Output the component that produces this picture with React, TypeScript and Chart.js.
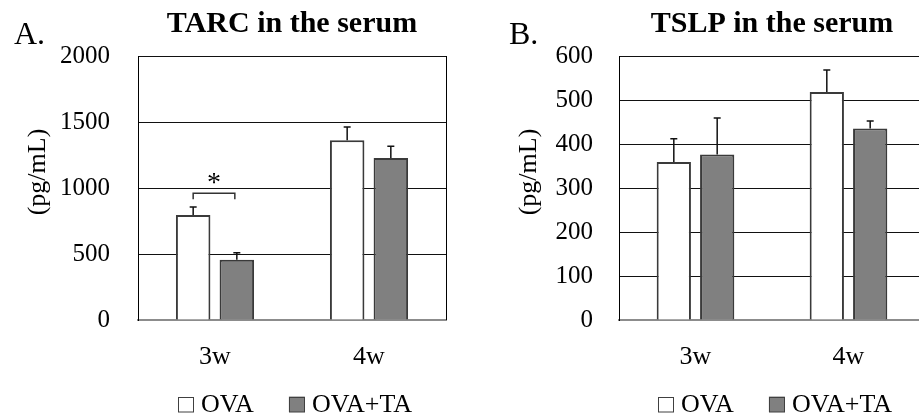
import React, { useEffect, useRef } from "react";
import { Chart, registerables } from "chart.js";

Chart.register(...registerables);

const FONT = "'Liberation Serif', 'Times New Roman', Times, serif";

// ---- data ----
const categories = ["3w", "4w"];
const seriesLabels = ["OVA", "OVA+TA"];
const seriesColors = ["#ffffff", "#808080"];

const tarcOVA = [795, 1361];
const tarcOVAErr = [61, 101];
const tarcTA = [457, 1227];
const tarcTAErr = [53, 89];
const tarcTicks = [0, 500, 1000, 1500, 2000];

const tslpOVA = [359, 518];
const tslpOVAErr = [53, 50];
const tslpTA = [376, 435];
const tslpTAErr = [83, 17];
const tslpTicks = [0, 100, 200, 300, 400, 500, 600];

const tarcSignificance = { index: 0, level: 960, mark: "*" };

type Sig = { index: number; level: number; mark: string };
type PanelSpec = {
  letter: string;
  letterX: number;
  title: string;
  yLabel: string;
  values: number[][];
  errors: number[][];
  ticks: number[];
  width: number;
  axisWidth: number;
  tickPad: number;
  rightPad: number;
  yLabelX: number;
  sig?: Sig;
};

const panelA: PanelSpec = {
  letter: "A.",
  letterX: 14,
  title: "TARC in the serum",
  yLabel: "(pg/mL)",
  values: [tarcOVA, tarcTA],
  errors: [tarcOVAErr, tarcTAErr],
  ticks: tarcTicks,
  width: 460,
  axisWidth: 138,
  tickPad: 28,
  rightPad: 14,
  yLabelX: 38.5,
  sig: tarcSignificance,
};

const panelB: PanelSpec = {
  letter: "B.",
  letterX: 49,
  title: "TSLP in the serum",
  yLabel: "(pg/mL)",
  values: [tslpOVA, tslpTA],
  errors: [tslpOVAErr, tslpTAErr],
  ticks: tslpTicks,
  width: 480,
  axisWidth: 159,
  tickPad: 26,
  rightPad: 15,
  yLabelX: 69,
};

function buildConfig(spec: PanelSpec): any {
  const datasets = seriesLabels.map((label, i) => ({
    label,
    data: spec.values[i],
    backgroundColor: seriesColors[i],
    borderColor: "#3a3a3a",
    borderWidth: 2,
    categoryPercentage: 0.567,
    barPercentage: 0.79,
  }));

  const decor = {
    id: "decor",
    afterDatasetsDraw(chart: any) {
      const ctx = chart.ctx;
      const y = chart.scales.y;
      // error bars
      chart.data.datasets.forEach((ds: any, i: number) => {
        const meta = chart.getDatasetMeta(i);
        meta.data.forEach((bar: any, j: number) => {
          const top = y.getPixelForValue(ds.data[j] + spec.errors[i][j]);
          ctx.save();
          ctx.strokeStyle = "#111";
          ctx.lineWidth = 1.5;
          ctx.beginPath();
          ctx.moveTo(bar.x, bar.y);
          ctx.lineTo(bar.x, top);
          ctx.moveTo(bar.x - 3.5, top);
          ctx.lineTo(bar.x + 3.5, top);
          ctx.stroke();
          ctx.restore();
        });
      });
      // significance bracket
      if (spec.sig) {
        const b0 = chart.getDatasetMeta(0).data[spec.sig.index];
        const b1 = chart.getDatasetMeta(1).data[spec.sig.index];
        const ty = y.getPixelForValue(spec.sig.level);
        const x0 = b0.x;
        const x1 = b1.x - 2;
        ctx.save();
        ctx.strokeStyle = "#333";
        ctx.lineWidth = 1.5;
        ctx.beginPath();
        ctx.moveTo(x0, ty + 6);
        ctx.lineTo(x0, ty);
        ctx.lineTo(x1, ty);
        ctx.lineTo(x1, ty + 6);
        ctx.stroke();
        ctx.fillStyle = "#000";
        ctx.font = `28px ${FONT}`;
        ctx.textAlign = "center";
        ctx.textBaseline = "middle";
        ctx.fillText(spec.sig.mark, (x0 + x1) / 2, ty - 10);
        ctx.restore();
      }
    },
    afterDraw(chart: any) {
      const ctx = chart.ctx;
      const area = chart.chartArea;
      ctx.save();
      // right frame border
      ctx.strokeStyle = "#000";
      ctx.lineWidth = 1;
      ctx.beginPath();
      ctx.moveTo(Math.round(area.right) + 0.5, area.top);
      ctx.lineTo(Math.round(area.right) + 0.5, area.bottom);
      ctx.stroke();
      // panel letter
      ctx.fillStyle = "#000";
      ctx.font = `32px ${FONT}`;
      ctx.textAlign = "left";
      ctx.textBaseline = "alphabetic";
      ctx.fillText(spec.letter, spec.letterX, 44);
      // y label
      ctx.save();
      ctx.translate(spec.yLabelX, 172);
      ctx.rotate(-Math.PI / 2);
      ctx.font = `26px ${FONT}`;
      ctx.textAlign = "center";
      ctx.textBaseline = "middle";
      ctx.fillText(spec.yLabel, 0, 0);
      ctx.restore();
      // legend
      ctx.font = `26px ${FONT}`;
      const boxW = 16;
      const boxH = 15.5;
      const gap = 7;
      const spacing = 35;
      const widths = chart.data.datasets.map((d: any) => ctx.measureText(d.label).width);
      let total = 0;
      widths.forEach((w: number, i: number) => {
        total += boxW + gap + w + (i > 0 ? spacing : 0);
      });
      let x = (area.left + area.right) / 2 + 3 - total / 2;
      const baseY = 412;
      chart.data.datasets.forEach((d: any, i: number) => {
        ctx.fillStyle = d.backgroundColor;
        ctx.fillRect(x, baseY - boxH, boxW, boxH);
        ctx.strokeStyle = "#404040";
        ctx.lineWidth = 1;
        ctx.strokeRect(Math.round(x) + 0.5, Math.round(baseY - boxH) + 0.5, boxW - 1, boxH - 1);
        ctx.fillStyle = "#000";
        ctx.textAlign = "left";
        ctx.textBaseline = "alphabetic";
        ctx.fillText(d.label, x + boxW + gap, baseY);
        x += boxW + gap + widths[i] + spacing;
      });
      ctx.restore();
    },
  };

  const maxTick = spec.ticks[spec.ticks.length - 1];

  return {
    type: "bar",
    data: { labels: categories, datasets },
    plugins: [decor],
    options: {
      responsive: false,
      animation: false,
      events: [],
      layout: { padding: { left: 0, right: spec.rightPad, top: 0, bottom: 0 } },
      plugins: {
        legend: { display: false },
        tooltip: { enabled: false },
        title: {
          display: true,
          text: spec.title,
          fullSize: false,
          color: "#000",
          font: { family: FONT, size: 30, weight: "bold", lineHeight: 1.2 },
          padding: { top: 6, bottom: 14 },
        },
      },
      scales: {
        x: {
          type: "category",
          offset: true,
          grid: { display: false, drawTicks: false },
          border: { display: true, color: "#8c8c8c", width: 2 },
          ticks: { color: "#000", font: { family: FONT, size: 26 }, padding: 22 },
          afterFit: (s: any) => {
            s.height = 97;
          },
        },
        y: {
          min: 0,
          max: maxTick,
          afterBuildTicks: (s: any) => {
            s.ticks = spec.ticks.map((v) => ({ value: v }));
          },
          ticks: {
            color: "#000",
            font: { family: FONT, size: 25 },
            padding: spec.tickPad,
            callback: (v: any) => String(v),
          },
          grid: {
            drawTicks: false,
            lineWidth: 1,
            color: (c: any) => (c.tick && c.tick.value === 0 ? "rgba(0,0,0,0)" : "#111"),
          },
          border: { display: true, color: "#000", width: 1 },
          afterFit: (s: any) => {
            s.width = spec.axisWidth;
          },
        },
      },
    },
  };
}

function Panel({ spec, left }: { spec: PanelSpec; left: number }) {
  const ref = useRef<HTMLCanvasElement>(null);
  useEffect(() => {
    if (!ref.current) return;
    const chart = new Chart(ref.current, buildConfig(spec));
    return () => chart.destroy();
  }, []);
  return (
    <canvas
      ref={ref}
      width={spec.width}
      height={417}
      style={{ position: "absolute", left, top: 0, width: spec.width, height: 417 }}
    />
  );
}

export default function App() {
  return (
    <div
      style={{
        position: "fixed",
        left: 0,
        top: 0,
        width: 919,
        height: 417,
        overflow: "hidden",
        background: "#fff",
      }}
    >
      <Panel spec={panelA} left={0} />
      <Panel spec={panelB} left={460} />
    </div>
  );
}
